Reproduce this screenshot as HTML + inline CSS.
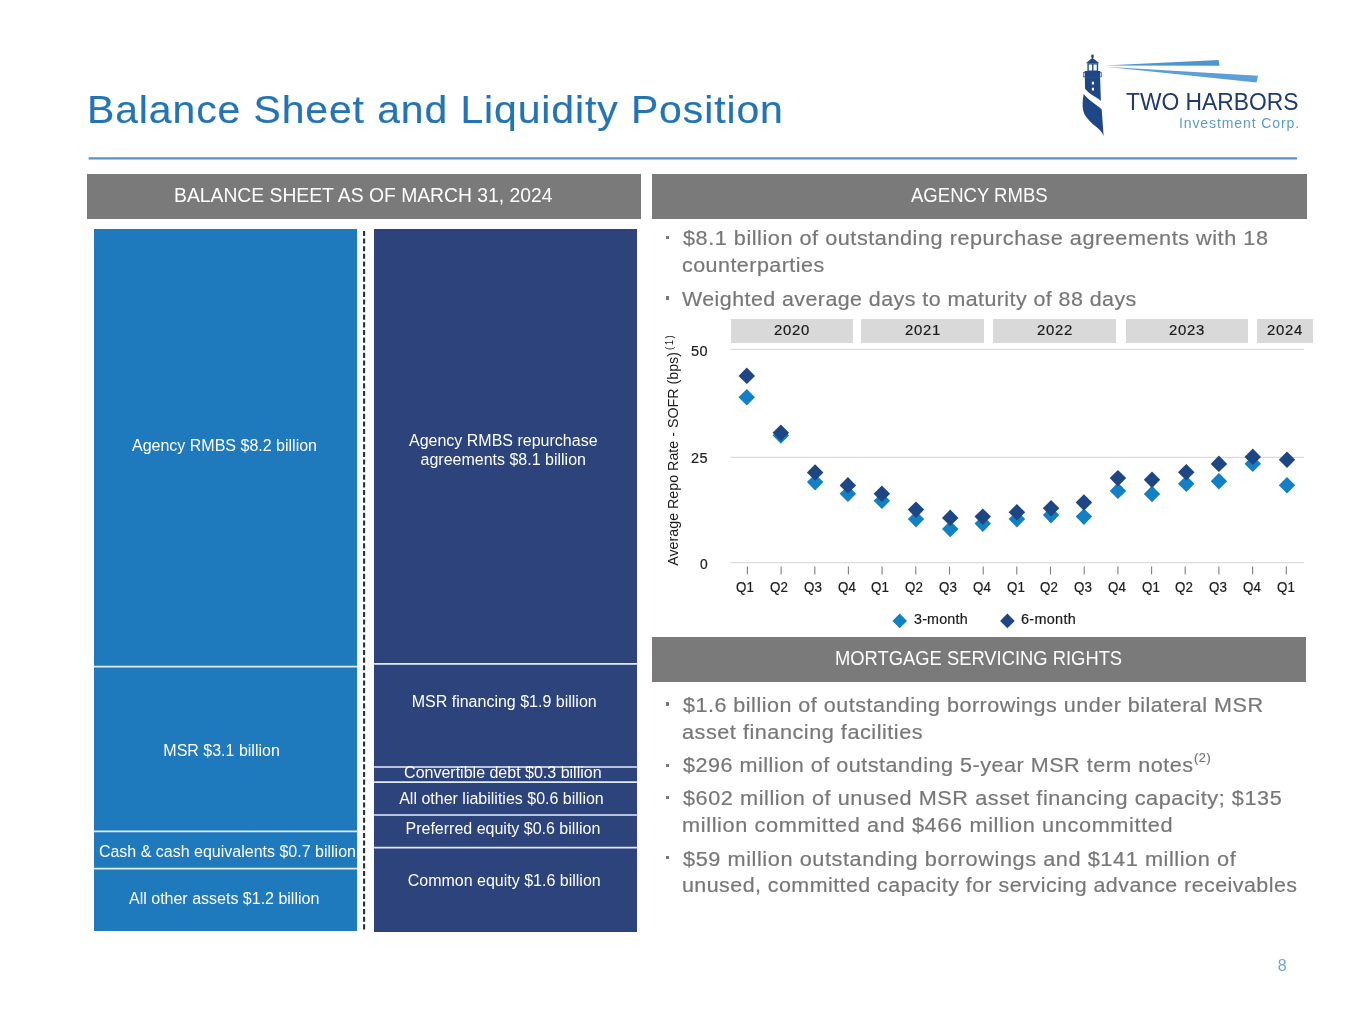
<!DOCTYPE html>
<html lang="en">
<head>
<meta charset="utf-8">
<title>Balance Sheet and Liquidity Position</title>
<style>
html,body{margin:0;padding:0;background:#fff;}
body{width:1365px;height:1024px;position:relative;overflow:hidden;font-family:"Liberation Sans",sans-serif;}
.t{position:absolute;white-space:nowrap;transform-origin:0 50%;display:block;}
.b{position:absolute;}
.hdr{background:#7a7a7a;}
.lb{background:#1f79bd;}
.db{background:#2c437b;}
.yr{position:absolute;top:319.4px;height:23.6px;background:#d9d9d9;}
.dot{position:absolute;width:3.2px;height:3.2px;background:#777;left:666px;}
svg{position:absolute;left:0;top:0;overflow:visible;}
</style>
</head>
<body>
<!-- header bars -->
<div class="b hdr" style="left:87.2px;top:174px;width:553.7px;height:44.8px"></div>
<div class="b hdr" style="left:652.1px;top:174px;width:654.6px;height:44.8px"></div>
<div class="b hdr" style="left:652.1px;top:637.4px;width:653.8px;height:44.4px"></div>
<!-- asset bar -->
<div class="b lb" style="left:93.8px;top:229.1px;width:263.7px;height:702.2px">
</div>
<!-- dashed divider -->
<svg width="1365" height="1024" viewBox="0 0 1365 1024"><line x1="364.1" x2="364.1" y1="230.9" y2="931" stroke="#2e2e2e" stroke-width="2.1" stroke-dasharray="5.1 2.52"/></svg>
<!-- liabilities bar -->
<div class="b db" style="left:374.1px;top:229.1px;width:262.8px;height:703.3px">
</div>
<!-- year boxes -->
<div class="yr" style="left:730.5px;width:122.6px"></div>
<div class="yr" style="left:861px;width:122.5px"></div>
<div class="yr" style="left:993.3px;width:122.5px"></div>
<div class="yr" style="left:1125.7px;width:122.2px"></div>
<div class="yr" style="left:1257.1px;width:55.7px"></div>
<!-- bullets -->
<div class="dot" style="top:236px"></div>
<div class="dot" style="top:296.4px"></div>
<div class="dot" style="top:702.4px"></div>
<div class="dot" style="top:763.6px"></div>
<div class="dot" style="top:796.3px"></div>
<div class="dot" style="top:856.3px"></div>
<!-- chart + logo graphics -->
<svg width="1365" height="1024" viewBox="0 0 1365 1024">
<line x1="730.5" x2="1304" y1="349.3" y2="349.3" stroke="#dcdcdc" stroke-width="1.3"/>
<line x1="730.5" x2="1304" y1="457.4" y2="457.4" stroke="#dcdcdc" stroke-width="1.3"/>
<line x1="730.5" x2="1304" y1="562.6" y2="562.6" stroke="#dcdcdc" stroke-width="1.3"/>
<line x1="747.4" x2="747.4" y1="566.6" y2="574.6" stroke="#7f7f7f" stroke-width="1.1"/>
<line x1="781.1" x2="781.1" y1="566.6" y2="574.6" stroke="#7f7f7f" stroke-width="1.1"/>
<line x1="814.8" x2="814.8" y1="566.6" y2="574.6" stroke="#7f7f7f" stroke-width="1.1"/>
<line x1="848.4" x2="848.4" y1="566.6" y2="574.6" stroke="#7f7f7f" stroke-width="1.1"/>
<line x1="882.1" x2="882.1" y1="566.6" y2="574.6" stroke="#7f7f7f" stroke-width="1.1"/>
<line x1="915.8" x2="915.8" y1="566.6" y2="574.6" stroke="#7f7f7f" stroke-width="1.1"/>
<line x1="949.5" x2="949.5" y1="566.6" y2="574.6" stroke="#7f7f7f" stroke-width="1.1"/>
<line x1="983.2" x2="983.2" y1="566.6" y2="574.6" stroke="#7f7f7f" stroke-width="1.1"/>
<line x1="1016.8" x2="1016.8" y1="566.6" y2="574.6" stroke="#7f7f7f" stroke-width="1.1"/>
<line x1="1050.5" x2="1050.5" y1="566.6" y2="574.6" stroke="#7f7f7f" stroke-width="1.1"/>
<line x1="1084.2" x2="1084.2" y1="566.6" y2="574.6" stroke="#7f7f7f" stroke-width="1.1"/>
<line x1="1117.9" x2="1117.9" y1="566.6" y2="574.6" stroke="#7f7f7f" stroke-width="1.1"/>
<line x1="1151.6" x2="1151.6" y1="566.6" y2="574.6" stroke="#7f7f7f" stroke-width="1.1"/>
<line x1="1185.2" x2="1185.2" y1="566.6" y2="574.6" stroke="#7f7f7f" stroke-width="1.1"/>
<line x1="1218.9" x2="1218.9" y1="566.6" y2="574.6" stroke="#7f7f7f" stroke-width="1.1"/>
<line x1="1252.6" x2="1252.6" y1="566.6" y2="574.6" stroke="#7f7f7f" stroke-width="1.1"/>
<line x1="1286.3" x2="1286.3" y1="566.6" y2="574.6" stroke="#7f7f7f" stroke-width="1.1"/>
<path d="M746.8,388.9L755.0,397.2L746.8,405.4L738.5,397.2Z" fill="#1180c4"/>
<path d="M780.9,427.2L789.1,435.5L780.9,443.8L772.6,435.5Z" fill="#1180c4"/>
<path d="M815.1,473.9L823.4,482.1L815.1,490.4L806.9,482.1Z" fill="#1180c4"/>
<path d="M847.9,485.6L856.1,493.8L847.9,502.1L839.6,493.8Z" fill="#1180c4"/>
<path d="M881.9,492.4L890.1,500.7L881.9,508.9L873.6,500.7Z" fill="#1180c4"/>
<path d="M916.0,510.9L924.2,519.1L916.0,527.4L907.8,519.1Z" fill="#1180c4"/>
<path d="M950.2,520.8L958.5,529.0L950.2,537.2L942.0,529.0Z" fill="#1180c4"/>
<path d="M982.8,515.4L991.0,523.6L982.8,531.9L974.5,523.6Z" fill="#1180c4"/>
<path d="M1016.9,510.9L1025.2,519.1L1016.9,527.4L1008.6,519.1Z" fill="#1180c4"/>
<path d="M1051.1,506.9L1059.3,515.1L1051.1,523.4L1042.8,515.1Z" fill="#1180c4"/>
<path d="M1083.9,508.4L1092.2,516.6L1083.9,524.9L1075.7,516.6Z" fill="#1180c4"/>
<path d="M1117.9,482.6L1126.2,490.9L1117.9,499.1L1109.7,490.9Z" fill="#1180c4"/>
<path d="M1152.0,485.8L1160.2,494.0L1152.0,502.2L1143.8,494.0Z" fill="#1180c4"/>
<path d="M1186.3,475.4L1194.5,483.7L1186.3,491.9L1178.0,483.7Z" fill="#1180c4"/>
<path d="M1218.9,472.9L1227.2,481.2L1218.9,489.4L1210.7,481.2Z" fill="#1180c4"/>
<path d="M1252.8,455.6L1261.0,463.8L1252.8,472.1L1244.5,463.8Z" fill="#1180c4"/>
<path d="M1287.0,477.1L1295.2,485.3L1287.0,493.6L1278.8,485.3Z" fill="#1180c4"/>
<path d="M746.8,367.6L755.0,375.9L746.8,384.1L738.5,375.9Z" fill="#1e4684"/>
<path d="M780.9,424.6L789.1,432.8L780.9,441.1L772.6,432.8Z" fill="#1e4684"/>
<path d="M815.1,464.2L823.4,472.5L815.1,480.8L806.9,472.5Z" fill="#1e4684"/>
<path d="M847.9,477.1L856.1,485.4L847.9,493.6L839.6,485.4Z" fill="#1e4684"/>
<path d="M881.9,485.6L890.1,493.8L881.9,502.1L873.6,493.8Z" fill="#1e4684"/>
<path d="M916.0,501.4L924.2,509.6L916.0,517.9L907.8,509.6Z" fill="#1e4684"/>
<path d="M950.2,509.6L958.5,517.9L950.2,526.1L942.0,517.9Z" fill="#1e4684"/>
<path d="M982.8,508.4L991.0,516.6L982.8,524.9L974.5,516.6Z" fill="#1e4684"/>
<path d="M1016.9,504.0L1025.2,512.3L1016.9,520.5L1008.6,512.3Z" fill="#1e4684"/>
<path d="M1051.1,499.9L1059.3,508.2L1051.1,516.5L1042.8,508.2Z" fill="#1e4684"/>
<path d="M1083.9,494.2L1092.2,502.5L1083.9,510.8L1075.7,502.5Z" fill="#1e4684"/>
<path d="M1117.9,469.9L1126.2,478.1L1117.9,486.4L1109.7,478.1Z" fill="#1e4684"/>
<path d="M1152.0,471.6L1160.2,479.8L1152.0,488.1L1143.8,479.8Z" fill="#1e4684"/>
<path d="M1186.3,464.1L1194.5,472.3L1186.3,480.6L1178.0,472.3Z" fill="#1e4684"/>
<path d="M1218.9,455.6L1227.2,463.9L1218.9,472.1L1210.7,463.9Z" fill="#1e4684"/>
<path d="M1252.8,448.6L1261.0,456.9L1252.8,465.1L1244.5,456.9Z" fill="#1e4684"/>
<path d="M1287.0,451.6L1295.2,459.8L1287.0,468.1L1278.8,459.8Z" fill="#1e4684"/>
<path d="M899.7,613.6L907.0,620.9L899.7,628.2L892.4,620.9Z" fill="#1180c4"/>
<path d="M1007.4,613.6L1014.7,620.9L1007.4,628.2L1000.1,620.9Z" fill="#1e4684"/>
<line x1="93.8" x2="357.5" y1="666.6" y2="666.6" stroke="#e4ecf7" stroke-width="1.7"/>
<line x1="93.8" x2="357.5" y1="831.3" y2="831.3" stroke="#e4ecf7" stroke-width="1.7"/>
<line x1="93.8" x2="357.5" y1="868.6" y2="868.6" stroke="#e4ecf7" stroke-width="1.7"/>
<line x1="374.1" x2="636.9" y1="663.9" y2="663.9" stroke="#e4ecf7" stroke-width="1.7"/>
<line x1="374.1" x2="636.9" y1="767.0" y2="767.0" stroke="#e4ecf7" stroke-width="1.7"/>
<line x1="374.1" x2="636.9" y1="782.2" y2="782.2" stroke="#e4ecf7" stroke-width="1.7"/>
<line x1="374.1" x2="636.9" y1="815.0" y2="815.0" stroke="#e4ecf7" stroke-width="1.7"/>
<line x1="374.1" x2="636.9" y1="847.6" y2="847.6" stroke="#e4ecf7" stroke-width="1.7"/>
<line x1="88.6" x2="1297" y1="158.4" y2="158.4" stroke="#5a92c6" stroke-width="2.3"/>
<g transform="translate(1070,45) scale(0.09772)" fill="#1f4788">
<circle cx="230" cy="112" r="14"/>
<rect x="220" y="118" width="20" height="16"/>
<path d="M162,188 L230,130 L300,188 Z"/>
<path d="M178,186 H288 V268 H178 Z M192,200 V262 H226 V200 Z M240,200 V262 H274 V200 Z" fill-rule="evenodd"/>
<rect x="150" y="266" width="160" height="70"/>
<rect x="138" y="280" width="184" height="46" fill="none" stroke="#1f4788" stroke-width="6"/>
<path d="M152,330 L306,330 L309,358 L316,573 Q295,552 261,532 Q230,512 201,493 Q175,475 154,448 Z M224,376 H246 V404 H224 Z M224,438 H246 V466 H224 Z" fill-rule="evenodd"/>
<path d="M140,502 Q165,535 201,562 L261,610 Q300,638 324,658 L344,930 Q330,895 309,874 Q285,850 261,832 Q225,805 201,778 Q165,740 147,706 Q130,670 129,628 Q128,560 140,502 Z"/>
</g>
<path d="M1104.5,65.6 L1218.6,60 L1219.6,65.7 Z" fill="#4c96d0"/>
<path d="M1105.5,66.8 L1258,75.8 L1256.6,82.5 Z" fill="#5a9fd6"/>

</svg>
<!-- y axis title -->
<span class="t" id="yax" style="left:0;top:0;font-size:15px;line-height:18px;color:#1c1c1c;transform-origin:0 0;transform:translate(664.2px,565.8px) rotate(-90deg) scaleX(0.951)">Average Repo Rate - SOFR (bps)<span style="font-size:10px;position:relative;top:-5px;letter-spacing:1.6px;margin-left:2.2px">(1)</span></span>

<!-- text -->
<span class="t" style="left:87.2px;top:85.5px;font-size:39px;line-height:47px;color:#2474B5;letter-spacing:0.872px;transform:scaleX(1.0485);-webkit-text-stroke:0.2px #2474B5">Balance Sheet and Liquidity Position</span>
<span class="t" style="left:173.9px;top:182.7px;font-size:20px;line-height:24px;color:#ffffff;letter-spacing:0.000px;transform:scaleX(0.9655);-webkit-text-stroke:0px #ffffff">BALANCE SHEET AS OF MARCH 31, 2024</span>
<span class="t" style="left:911.1px;top:182.7px;font-size:20px;line-height:24px;color:#ffffff;letter-spacing:0.000px;transform:scaleX(0.9270);-webkit-text-stroke:0px #ffffff">AGENCY RMBS</span>
<span class="t" style="left:835.2px;top:646.0px;font-size:20px;line-height:24px;color:#ffffff;letter-spacing:0.000px;transform:scaleX(0.9184);-webkit-text-stroke:0px #ffffff">MORTGAGE SERVICING RIGHTS</span>
<span class="t" style="left:683.1px;top:225.3px;font-size:20.5px;line-height:25px;color:#777777;letter-spacing:0.517px;transform:scaleX(1.0552);-webkit-text-stroke:0.2px #777777">$8.1 billion of outstanding repurchase agreements with 18</span>
<span class="t" style="left:682.3px;top:252.4px;font-size:20.5px;line-height:25px;color:#777777;letter-spacing:0.460px;transform:scaleX(1.0461);-webkit-text-stroke:0.2px #777777">counterparties</span>
<span class="t" style="left:682.3px;top:285.5px;font-size:20.5px;line-height:25px;color:#777777;letter-spacing:0.427px;transform:scaleX(1.0441);-webkit-text-stroke:0.2px #777777">Weighted average days to maturity of 88 days</span>
<span class="t" style="left:683.1px;top:692.1px;font-size:20.5px;line-height:25px;color:#777777;letter-spacing:0.467px;transform:scaleX(1.0507);-webkit-text-stroke:0.2px #777777">$1.6 billion of outstanding borrowings under bilateral MSR</span>
<span class="t" style="left:682.4px;top:719.2px;font-size:20.5px;line-height:25px;color:#777777;letter-spacing:0.490px;transform:scaleX(1.0569);-webkit-text-stroke:0.2px #777777">asset financing facilities</span>
<span class="t" style="left:683.1px;top:752.4px;font-size:20.5px;line-height:25px;color:#777777;letter-spacing:0.494px;transform:scaleX(1.0514);-webkit-text-stroke:0.2px #777777">$296 million of outstanding 5-year MSR term notes</span>
<span class="t" style="left:683.1px;top:785.3px;font-size:20.5px;line-height:25px;color:#777777;letter-spacing:0.538px;transform:scaleX(1.0562);-webkit-text-stroke:0.2px #777777">$602 million of unused MSR asset financing capacity; $135</span>
<span class="t" style="left:681.5px;top:812.2px;font-size:20.5px;line-height:25px;color:#777777;letter-spacing:0.589px;transform:scaleX(1.0600);-webkit-text-stroke:0.2px #777777">million committed and $466 million uncommitted</span>
<span class="t" style="left:683.1px;top:845.8px;font-size:20.5px;line-height:25px;color:#777777;letter-spacing:0.543px;transform:scaleX(1.0583);-webkit-text-stroke:0.2px #777777">$59 million outstanding borrowings and $141 million of</span>
<span class="t" style="left:681.6px;top:872.4px;font-size:20.5px;line-height:25px;color:#777777;letter-spacing:0.431px;transform:scaleX(1.0453);-webkit-text-stroke:0.2px #777777">unused, committed capacity for servicing advance receivables</span>
<span class="t" style="left:1194.2px;top:750.8px;font-size:12px;line-height:14px;color:#777777;letter-spacing:0.542px;transform:scaleX(1.0600);-webkit-text-stroke:0.2px #777777">(2)</span>
<span class="t" style="left:132.0px;top:435.8px;font-size:16px;line-height:19px;color:#ffffff">Agency RMBS $8.2 billion</span>
<span class="t" style="left:163.3px;top:740.6px;font-size:16px;line-height:19px;color:#ffffff">MSR $3.1 billion</span>
<span class="t" style="left:98.9px;top:841.5px;font-size:16px;line-height:19px;color:#ffffff">Cash &amp; cash equivalents $0.7 billion</span>
<span class="t" style="left:129.0px;top:889.3px;font-size:16px;line-height:19px;color:#ffffff">All other assets $1.2 billion</span>
<span class="t" style="left:409.0px;top:431.2px;font-size:16px;line-height:19px;color:#ffffff">Agency RMBS repurchase</span>
<span class="t" style="left:420.5px;top:450.3px;font-size:16px;line-height:19px;color:#ffffff">agreements $8.1 billion</span>
<span class="t" style="left:411.7px;top:691.5px;font-size:16px;line-height:19px;color:#ffffff">MSR financing $1.9 billion</span>
<span class="t" style="left:404.1px;top:762.9px;font-size:16px;line-height:19px;color:#ffffff">Convertible debt $0.3 billion</span>
<span class="t" style="left:399.2px;top:788.8px;font-size:16px;line-height:19px;color:#ffffff">All other liabilities $0.6 billion</span>
<span class="t" style="left:405.5px;top:818.9px;font-size:16px;line-height:19px;color:#ffffff">Preferred equity $0.6 billion</span>
<span class="t" style="left:407.7px;top:870.8px;font-size:16px;line-height:19px;color:#ffffff">Common equity $1.6 billion</span>
<span class="t" style="left:774.1px;top:321.9px;font-size:14px;line-height:17px;color:#1c1c1c;letter-spacing:0.653px;transform:scaleX(1.0625);-webkit-text-stroke:0.2px #1c1c1c">2020</span>
<span class="t" style="left:904.5px;top:321.9px;font-size:14px;line-height:17px;color:#1c1c1c;letter-spacing:0.653px;transform:scaleX(1.0625);-webkit-text-stroke:0.2px #1c1c1c">2021</span>
<span class="t" style="left:1036.8px;top:321.9px;font-size:14px;line-height:17px;color:#1c1c1c;letter-spacing:0.653px;transform:scaleX(1.0625);-webkit-text-stroke:0.2px #1c1c1c">2022</span>
<span class="t" style="left:1169.1px;top:321.9px;font-size:14px;line-height:17px;color:#1c1c1c;letter-spacing:0.653px;transform:scaleX(1.0625);-webkit-text-stroke:0.2px #1c1c1c">2023</span>
<span class="t" style="left:1267.2px;top:321.9px;font-size:14px;line-height:17px;color:#1c1c1c;letter-spacing:0.653px;transform:scaleX(1.0625);-webkit-text-stroke:0.2px #1c1c1c">2024</span>
<span class="t" style="left:690.9px;top:343.4px;font-size:14px;line-height:17px;color:#1c1c1c;letter-spacing:0.547px;transform:scaleX(1.0347);-webkit-text-stroke:0.2px #1c1c1c">50</span>
<span class="t" style="left:690.9px;top:450.4px;font-size:14px;line-height:17px;color:#1c1c1c;letter-spacing:0.547px;transform:scaleX(1.0347);-webkit-text-stroke:0.2px #1c1c1c">25</span>
<span class="t" style="left:699.9px;top:555.8px;font-size:14px;line-height:17px;color:#1c1c1c;letter-spacing:0.000px;transform:scaleX(0.9875);-webkit-text-stroke:0.2px #1c1c1c">0</span>
<span class="t" style="left:736.4px;top:579.0px;font-size:14px;line-height:17px;color:#1c1c1c;letter-spacing:0.000px;transform:scaleX(0.9529);-webkit-text-stroke:0.2px #1c1c1c">Q1</span>
<span class="t" style="left:770.2px;top:579.0px;font-size:14px;line-height:17px;color:#1c1c1c;letter-spacing:0.000px;transform:scaleX(0.9529);-webkit-text-stroke:0.2px #1c1c1c">Q2</span>
<span class="t" style="left:803.9px;top:579.0px;font-size:14px;line-height:17px;color:#1c1c1c;letter-spacing:0.000px;transform:scaleX(0.9529);-webkit-text-stroke:0.2px #1c1c1c">Q3</span>
<span class="t" style="left:837.7px;top:579.0px;font-size:14px;line-height:17px;color:#1c1c1c;letter-spacing:0.000px;transform:scaleX(0.9529);-webkit-text-stroke:0.2px #1c1c1c">Q4</span>
<span class="t" style="left:871.4px;top:579.0px;font-size:14px;line-height:17px;color:#1c1c1c;letter-spacing:0.000px;transform:scaleX(0.9529);-webkit-text-stroke:0.2px #1c1c1c">Q1</span>
<span class="t" style="left:905.2px;top:579.0px;font-size:14px;line-height:17px;color:#1c1c1c;letter-spacing:0.000px;transform:scaleX(0.9529);-webkit-text-stroke:0.2px #1c1c1c">Q2</span>
<span class="t" style="left:939.0px;top:579.0px;font-size:14px;line-height:17px;color:#1c1c1c;letter-spacing:0.000px;transform:scaleX(0.9529);-webkit-text-stroke:0.2px #1c1c1c">Q3</span>
<span class="t" style="left:972.7px;top:579.0px;font-size:14px;line-height:17px;color:#1c1c1c;letter-spacing:0.000px;transform:scaleX(0.9529);-webkit-text-stroke:0.2px #1c1c1c">Q4</span>
<span class="t" style="left:1006.5px;top:579.0px;font-size:14px;line-height:17px;color:#1c1c1c;letter-spacing:0.000px;transform:scaleX(0.9529);-webkit-text-stroke:0.2px #1c1c1c">Q1</span>
<span class="t" style="left:1040.2px;top:579.0px;font-size:14px;line-height:17px;color:#1c1c1c;letter-spacing:0.000px;transform:scaleX(0.9529);-webkit-text-stroke:0.2px #1c1c1c">Q2</span>
<span class="t" style="left:1074.0px;top:579.0px;font-size:14px;line-height:17px;color:#1c1c1c;letter-spacing:0.000px;transform:scaleX(0.9529);-webkit-text-stroke:0.2px #1c1c1c">Q3</span>
<span class="t" style="left:1107.8px;top:579.0px;font-size:14px;line-height:17px;color:#1c1c1c;letter-spacing:0.000px;transform:scaleX(0.9529);-webkit-text-stroke:0.2px #1c1c1c">Q4</span>
<span class="t" style="left:1141.5px;top:579.0px;font-size:14px;line-height:17px;color:#1c1c1c;letter-spacing:0.000px;transform:scaleX(0.9529);-webkit-text-stroke:0.2px #1c1c1c">Q1</span>
<span class="t" style="left:1175.3px;top:579.0px;font-size:14px;line-height:17px;color:#1c1c1c;letter-spacing:0.000px;transform:scaleX(0.9529);-webkit-text-stroke:0.2px #1c1c1c">Q2</span>
<span class="t" style="left:1209.0px;top:579.0px;font-size:14px;line-height:17px;color:#1c1c1c;letter-spacing:0.000px;transform:scaleX(0.9529);-webkit-text-stroke:0.2px #1c1c1c">Q3</span>
<span class="t" style="left:1242.8px;top:579.0px;font-size:14px;line-height:17px;color:#1c1c1c;letter-spacing:0.000px;transform:scaleX(0.9529);-webkit-text-stroke:0.2px #1c1c1c">Q4</span>
<span class="t" style="left:1276.6px;top:579.0px;font-size:14px;line-height:17px;color:#1c1c1c;letter-spacing:0.000px;transform:scaleX(0.9529);-webkit-text-stroke:0.2px #1c1c1c">Q1</span>
<span class="t" style="left:914.0px;top:610.6px;font-size:14px;line-height:17px;color:#1c1c1c;letter-spacing:0.184px;transform:scaleX(1.0218);-webkit-text-stroke:0.2px #1c1c1c">3-month</span>
<span class="t" style="left:1021.4px;top:610.6px;font-size:14px;line-height:17px;color:#1c1c1c;letter-spacing:0.273px;transform:scaleX(1.0324);-webkit-text-stroke:0.2px #1c1c1c">6-month</span>
<span class="t" style="left:1277.8px;top:955.8px;font-size:16px;line-height:19px;color:#74a3cf;letter-spacing:0.100px;transform:scaleX(1.0000);-webkit-text-stroke:0px #74a3cf">8</span>
<span class="t" style="left:1126.0px;top:88.0px;font-size:23px;line-height:28px;color:#1F3A6E;letter-spacing:0.000px;transform:scaleX(0.9929);-webkit-text-stroke:0px #1F3A6E">TWO HARBORS</span>
<span class="t" style="left:1178.9px;top:114.7px;font-size:14px;line-height:17px;color:#5B9BC8;letter-spacing:0.906px;transform:scaleX(1.0000);-webkit-text-stroke:0px #5B9BC8">Investment Corp.</span>
</body>
</html>
